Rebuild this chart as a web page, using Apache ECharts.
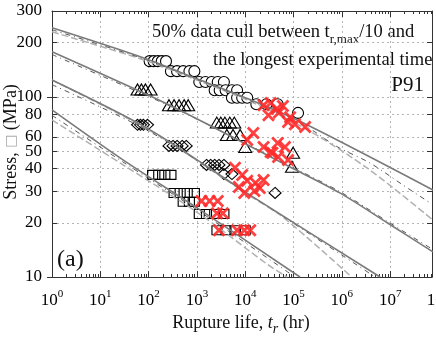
<!DOCTYPE html>
<html>
<head>
<meta charset="utf-8">
<script src="https://cdn.jsdelivr.net/npm/echarts@6/dist/echarts.min.js"></script>
<style>
html, body { margin: 0; padding: 0; background: #fff; }
#chart { width: 436px; height: 337px; }
</style>
</head>
<body>
<div id="chart"></div>
<script>
// [rupture life (hr), stress (MPa)]
var circles = [
  [105, 158], [127, 158], [155, 158], [187, 158], [229, 158],
  [290, 139], [388, 139], [520, 139], [700, 139], [886, 139],
  [1120, 121], [1500, 121], [2020, 121], [2700, 121], [3620, 121],
  [2330, 109], [2960, 109], [3930, 109], [5310, 109], [6790, 109],
  [5310, 99], [6790, 99], [8650, 99], [11000, 99],
  [17000, 91], [27500, 91], [47000, 91], [124000, 81.5]
];
var triangles = [
  [59, 110], [71, 110], [86, 110], [110, 110],
  [264, 90], [337, 90], [427, 90], [545, 90], [660, 90],
  [2580, 72], [3130, 72], [3800, 72], [4800, 72], [5950, 72],
  [4170, 61.5], [5600, 61.5], [7840, 61.5], [10000, 52.7],
  [98000, 49], [93000, 41]
];
var diamonds = [
  [59, 70], [68, 70], [78, 70], [95, 70],
  [264, 53.4], [320, 53.4], [388, 53.4], [495, 53.4], [600, 53.4],
  [1580, 41.9], [1920, 41.9], [2330, 41.9], [2860, 41.9], [3620, 41.9],
  [3620, 37.3], [5310, 37.3], [41500, 29.3]
];
var squares = [
  [121, 36.9], [162, 36.9], [217, 36.9], [290, 36.9],
  [337, 29.3], [450, 29.3], [630, 29.3], [886, 29.3],
  [520, 26.2], [700, 26.2], [886, 26.2],
  [1120, 22.4], [1580, 22.4], [2330, 22.4], [3620, 22.4],
  [2600, 18.2], [4000, 18.2], [6140, 18.2], [10000, 18.2]
];
var culled = [
  [24000, 90], [33600, 92.6], [45000, 86], [60500, 89], [30300, 79],
  [50000, 82], [85000, 77], [107000, 70.5], [174000, 68], [77000, 72.5],
  [14700, 63], [24000, 52.7], [33600, 49.5], [47000, 55.5], [66500, 52.7],
  [47800, 46.4], [77000, 44.6], [36700, 48.9], [11000, 57.7],
  [6140, 40.4], [8650, 36.9], [11000, 34.2], [16300, 33.3], [24000, 34.6],
  [9560, 29.3], [15500, 30], [20000, 31.2], [7400, 31.6],
  [1244, 26.4], [1830, 26.4], [2700, 26.4], [2600, 22.6], [3440, 22.6],
  [2860, 18.2], [6790, 18.2], [9560, 18.2], [12700, 18.2]
];

// fitted curves
var fitA = [[1, 242], [77, 165], [1000, 126], [13200, 96], [190000, 70], [7.7e7, 30.4]];
var fitA2 = [[1, 236], [77, 163], [1000, 125], [13200, 95], [190000, 68], [7.9e5, 53], [3.8e6, 43], [1.85e7, 32.4], [6.7e7, 25.8]];
var fitA3 = [[1, 230], [77, 161], [1000, 124], [13200, 94], [190000, 66], [3.8e6, 39.3], [7.7e7, 20.7]];
var fitB = [[1, 178], [219, 92.6], [2150, 68], [85000, 40.8], [9.1e5, 29.3], [8.7e6, 20], [7.7e7, 13.8]];
var fitB2 = [[1, 172], [219, 91.5], [2150, 68], [85000, 41.3], [9.1e5, 29.8], [8.7e6, 20.4], [7.7e7, 14.2]];
var fitC = [[1, 124], [107, 65.6], [12600, 28.5], [6.2e6, 10]];
var fitC2 = [[1, 117], [107, 64], [12600, 28.5], [4.9e6, 10]];
var fitC3 = [[1, 124], [107, 65], [12600, 28.2], [60500, 21.5], [1.6e6, 10]];
var fitD = [[1, 84.7], [29.5, 44.7], [1160, 23.6], [136000, 10]];
var fitD2 = [[1, 79], [29.5, 43.5], [1160, 23], [107000, 10]];
var fitD3 = [[1, 74.5], [29.5, 42], [1160, 22.3], [29500, 11.7], [74000, 10]];

var xMajor = [1, 10, 100, 1e3, 1e4, 1e5, 1e6, 1e7];
var xMax = 7.36e7;
var yTicks = [10, 20, 30, 40, 50, 60, 80, 100, 200, 300];
var xMinor = [];
for (var d = 0; d < 8; d++) {
  for (var k = 2; k <= 9; k++) xMinor.push(k * Math.pow(10, d));
}

var serif = '"Liberation Serif", "DejaVu Serif", serif';
var frame = '#333';
var supRich = {
  b: { fontFamily: serif, fontSize: 17, color: '#000', fill: '#000', verticalAlign: 'bottom', lineHeight: 20 },
  s: { fontFamily: serif, fontSize: 11, color: '#000', fill: '#000', verticalAlign: 'top', lineHeight: 20 }
};

function logX(pos, opts) {
  return Object.assign({
    type: 'log', logBase: 10, min: 1, max: xMax, position: pos,
    axisLine: { show: true, onZero: false, lineStyle: { color: frame, width: 1 } },
    axisTick: { show: true, inside: true, length: 6, customValues: xMajor, lineStyle: { color: frame } },
    axisLabel: { show: false },
    splitLine: { show: false }
  }, opts);
}
function logY(pos, opts) {
  return Object.assign({
    type: 'log', logBase: 10, min: 10, max: 300, position: pos,
    axisLine: { show: true, onZero: false, lineStyle: { color: frame, width: 1 } },
    axisTick: { show: true, inside: true, length: 5, customValues: yTicks, lineStyle: { color: frame } },
    axisLabel: { show: false },
    splitLine: { show: false }
  }, opts);
}

var chart = echarts.init(document.getElementById('chart'));

function scatter(data, symbol, size, fill) {
  return {
    type: 'scatter', data: data, symbol: symbol, symbolSize: size, z: 2,
    itemStyle: { color: fill, borderColor: '#000', borderWidth: 1.1, opacity: 1 },
    xAxisIndex: 0, yAxisIndex: 0
  };
}
function fit(data, color, width, dash) {
  return {
    type: 'line', data: data, showSymbol: false, smooth: 0.3, z: 3,
    lineStyle: { color: color, width: width, type: dash || 'solid' },
    xAxisIndex: 0, yAxisIndex: 0
  };
}

chart.setOption({
  animation: false,
  grid: { left: 52, right: 4, top: 11, bottom: 60 },
  xAxis: [
    logX('bottom', {
      axisLabel: {
        show: true, customValues: xMajor, margin: 12,
        formatter: function (v) { return '{b|10}{s|' + Math.round(Math.log10(v)) + '}'; },
        rich: supRich
      },
      splitLine: { show: true, lineStyle: { color: '#b4b4b4', type: [2, 3], width: 1 } }
    }),
    logX('bottom', { axisLine: { show: false }, axisTick: { inside: true, length: 3, customValues: xMinor, lineStyle: { color: frame } } }),
    logX('top'),
    logX('top', { axisLine: { show: false }, axisTick: { inside: true, length: 3, customValues: xMinor, lineStyle: { color: frame } } })
  ],
  yAxis: [
    logY('left', {
      axisLabel: { show: true, customValues: yTicks, margin: 10, fontFamily: serif, fontSize: 17, color: '#000' },
      splitLine: { show: true, lineStyle: { color: '#b4b4b4', type: [2, 3], width: 1 } }
    }),
    logY('left', { axisLine: { show: false }, axisTick: { inside: false, length: 5, customValues: [10, 100], lineStyle: { color: frame } } }),
    logY('right')
  ],
  graphic: [
    {
      // 10^8 label sits just past the clipped right edge
      type: 'text', x: 438, y: 289,
      style: { text: '{b|10}{s|8}', align: 'center', verticalAlign: 'top', rich: supRich }
    },
    {
      type: 'text', left: 152, top: 23,
      style: {
        text: '50% data cull between t{sub|r,max}/10 and',
        fontFamily: serif, fontSize: 18.5, fill: '#111',
        rich: { sub: { fontFamily: serif, fontSize: 13, verticalAlign: 'bottom', lineHeight: 27, fill: '#111' } }
      }
    },
    {
      type: 'text', left: 213, top: 51,
      style: { text: 'the longest experimental time', fontFamily: serif, fontSize: 18.5, fill: '#111' }
    },
    {
      type: 'text', right: 12, top: 75,
      style: { text: 'P91', fontFamily: serif, fontSize: 21, fill: '#111' }
    },
    {
      type: 'text', left: 57, top: 248,
      style: { text: '(a)', fontFamily: serif, fontSize: 24, fill: '#111' }
    },
    {
      type: 'text', x: 11, y: 142, rotation: Math.PI / 2,
      style: {
        text: 'Stress, {box|\u25A1} (MPa)', fontFamily: serif, fontSize: 18, fill: '#111',
        align: 'center', verticalAlign: 'middle',
        rich: { box: { fontFamily: '"DejaVu Sans", sans-serif', fontSize: 14, fill: '#aaa' } }
      }
    },
    {
      type: 'text', x: 241, y: 323,
      style: {
        text: 'Rupture life, {it|t}{sub|r} (hr)', fontFamily: serif, fontSize: 18, fill: '#111',
        align: 'center', verticalAlign: 'middle',
        rich: {
          it: { fontFamily: serif, fontStyle: 'italic', fontSize: 18, fill: '#111' },
          sub: { fontFamily: serif, fontStyle: 'italic', fontSize: 14, verticalAlign: 'bottom', lineHeight: 26, fill: '#111' }
        }
      }
    }
  ],
  series: [
    scatter(circles, 'circle', 11, '#fff'),
    scatter(triangles, 'triangle', [13, 11], 'rgba(0,0,0,0)'),
    scatter(diamonds, 'diamond', [12, 11], 'rgba(0,0,0,0)'),
    scatter(squares, 'rect', [10, 9], 'rgba(0,0,0,0)'),
    fit(fitA3, '#b0b0b0', 1.5, [7, 3]),
    fit(fitA2, '#555', 1, [5, 4, 1, 4]),
    fit(fitA, '#7a7a7a', 1.6),
    fit(fitB2, '#555', 1, [5, 4, 1, 4]),
    fit(fitB, '#7a7a7a', 1.6),
    fit(fitC3, '#b0b0b0', 1.5, [7, 3]),
    fit(fitC2, '#555', 1, [5, 4, 1, 4]),
    fit(fitC, '#7a7a7a', 1.6),
    fit(fitD3, '#b0b0b0', 1.5, [7, 3]),
    fit(fitD2, '#555', 1, [5, 4, 1, 4]),
    fit(fitD, '#7a7a7a', 1.6),
    {
      type: 'scatter', data: culled, z: 4,
      symbol: 'path://M0,0L10,10M0,10L10,0', symbolSize: 11,
      itemStyle: { color: 'rgba(0,0,0,0)', borderColor: '#ff2b2b', borderWidth: 2.8, opacity: 0.9 },
      xAxisIndex: 0, yAxisIndex: 0
    }
  ]
});
</script>
</body>
</html>
